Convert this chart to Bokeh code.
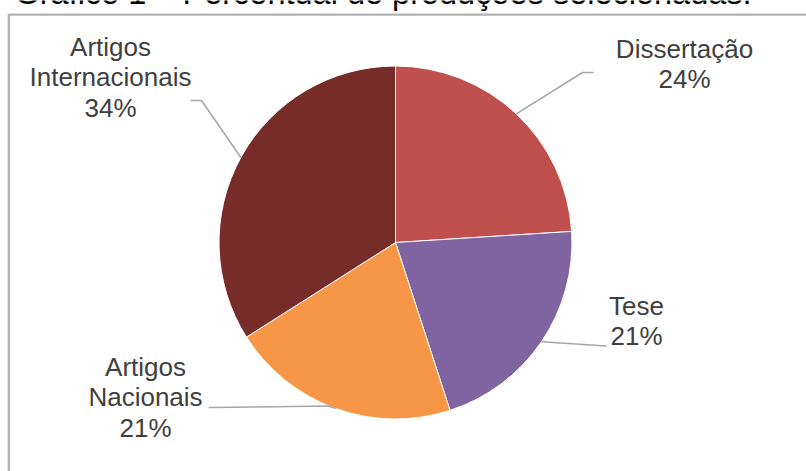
import numpy as np
from bokeh.plotting import figure
from bokeh.models import Range1d, ColumnDataSource, BoxAnnotation
from bokeh.core.properties import value
from bokeh.embed import file_html
from bokeh.resources import INLINE

# ---- data ----
categories = ["Dissertação", "Tese", "Artigos Nacionais", "Artigos Internacionais"]
label_lines = [["Dissertação"], ["Tese"], ["Artigos", "Nacionais"], ["Artigos", "Internacionais"]]
percentages = [24, 21, 21, 34]
colors = ["#C0504D", "#8064A2", "#F79646", "#772C2A"]
title_text = "Gráfico 1 – Percentual de produções selecionadas."

# ---- layout (screen pixels) ----
W, H = 806, 471
FONT = "Liberation Sans"
TXT = "#404040"
cx, cy_s, R = 395, 242, 176.5
TOFF = 10  # baseline correction for rendered text


def sy(y):
    return H - y


p = figure(width=W, height=H, x_range=Range1d(0, W), y_range=Range1d(0, H),
           output_backend="svg", toolbar_location=None,
           x_axis_type=None, y_axis_type=None, min_border=0,
           outline_line_color=None)
p.grid.grid_line_color = None

# frame
p.add_layout(BoxAnnotation(left=8.3, right=W + 50, top=sy(14.2), bottom=-50,
                           fill_alpha=0, line_color="black", line_width=2.3))

# title (clipped at top like the reference)
p.text(x=[14], y=[sy(2.5 - TOFF)], text=[title_text], text_font=value(FONT),
       text_font_size="32.5px", text_color="black", text_align="left",
       text_baseline="alphabetic")

# pie
fr = np.array(percentages, dtype=float) / sum(percentages)
cum = np.concatenate([[0.0], np.cumsum(fr)])
ang = np.pi / 2 - 2 * np.pi * cum
src = ColumnDataSource(dict(cat=categories, start=ang[1:], end=ang[:-1], color=colors))
p.wedge(x=cx, y=sy(cy_s), radius=R, start_angle="start", end_angle="end",
        fill_color="color", line_color="white", line_width=1, source=src)

# leader lines: from slice mid-angle to label anchor
mid = (ang[1:] + ang[:-1]) / 2
anchors = [[(582, 72), (593, 72)], [(606, 345.5)], [(328, 405.5), (208, 407)], [(201, 100), (190, 100)]]
xs, ys = [], []
for m, anc in zip(mid, anchors):
    px = cx + R * np.cos(m)
    py = sy(cy_s) + R * np.sin(m)
    lx = [px] + [a[0] for a in anc]
    ly = [py] + [sy(a[1]) for a in anc]
    xs.append(lx)
    ys.append(ly)
p.multi_line(xs=xs, ys=ys, line_color="#A6A6A6", line_width=1.5)

# labels
label_pos = [(684, 58), (636, 315), (145, 376), (110, 56)]
LH = 30.5
tx, ty, tt = [], [], []
for lines, pct, (lx, ly) in zip(label_lines, percentages, label_pos):
    for i, s in enumerate(lines + [f"{pct}%"]):
        tx.append(lx)
        ty.append(sy(ly + i * LH - TOFF))
        tt.append(s)
p.text(x=tx, y=ty, text=tt, text_font=value(FONT), text_font_size="26px",
       text_color=TXT, text_align="center", text_baseline="alphabetic")

open("out.html", "w").write(file_html(p, INLINE))
